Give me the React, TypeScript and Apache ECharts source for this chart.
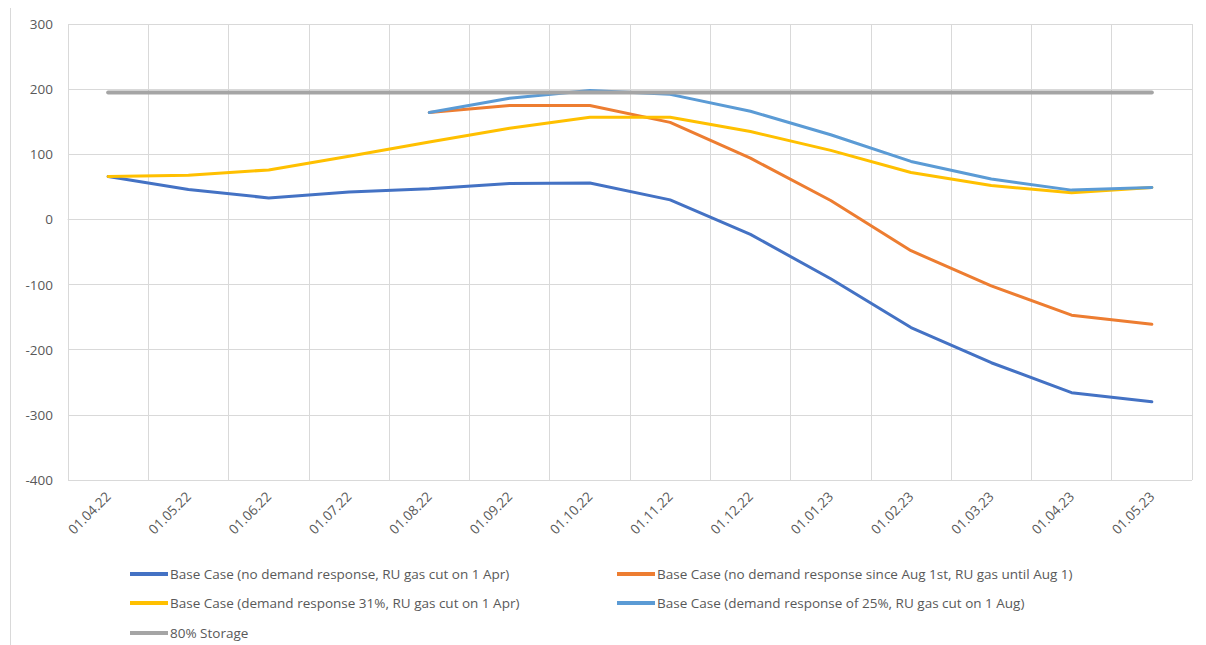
import React, { useEffect, useRef } from "react";
import * as echarts from "echarts";

const categories = [
  "01.04.22", "01.05.22", "01.06.22", "01.07.22", "01.08.22", "01.09.22", "01.10.22",
  "01.11.22", "01.12.22", "01.01.23", "01.02.23", "01.03.23", "01.04.23", "01.05.23",
];

const noDemandCutApr = [66, 46, 33, 42, 47, 55, 56, 30, -23, -91, -166, -220, -266, -280];
const noDemandSinceAug = [null, null, null, null, 164, 175, 175, 149, 94, 29, -48, -102, -147, -161];
const demand31CutApr = [66, 68, 76, 97, 119, 140, 157, 157, 135, 106, 72, 52, 41, 49];
const demand25CutAug = [null, null, null, null, 164, 186, 198, 192, 166, 130, 89, 62, 45, 49];
const storage80 = [195, 195, 195, 195, 195, 195, 195, 195, 195, 195, 195, 195, 195, 195];

const seriesNames = [
  "Base Case (no demand response, RU gas cut on 1 Apr)",
  "Base Case (no demand response since Aug 1st, RU gas until Aug 1)",
  "Base Case (demand response 31%, RU gas cut on 1 Apr)",
  "Base Case (demand response of 25%, RU gas cut on 1 Aug)",
  "80% Storage",
];
const seriesData = [noDemandCutApr, noDemandSinceAug, demand31CutApr, demand25CutAug, storage80];
const colors = ["#4472C4", "#ED7D31", "#FFC000", "#5B9BD5", "#A5A5A5"];
const widths = [3, 3, 3, 3, 4];

const FONT = "'Open Sans', sans-serif";

export default function App() {
  const ref = useRef<HTMLDivElement>(null);
  useEffect(() => {
    if (!ref.current) return;
    const chart = echarts.init(ref.current, undefined, { renderer: "svg" });
    const legendPos = [
      [130, 567],
      [617, 567],
      [130, 596],
      [617, 596],
      [130, 626],
    ];
    chart.setOption({
      animation: false,
      grid: { left: 68, right: 14, top: 24, bottom: 165 },
      legend: seriesNames.map((n, i) => ({
        data: [n],
        left: legendPos[i][0],
        top: legendPos[i][1],
        icon: "rect",
        itemWidth: 38,
        itemHeight: 4,
        padding: 0,
        textStyle: { fontFamily: FONT, fontSize: 13.5, color: "#595959", padding: [0, 0, 0, -3] },
      })),
      xAxis: {
        type: "category",
        data: categories,
        boundaryGap: true,
        axisLine: { show: true, lineStyle: { color: "#D9D9D9", width: 1 } },
        axisTick: { show: false },
        splitLine: { show: true, interval: 0, lineStyle: { color: "#D9D9D9", width: 1 } },
        axisLabel: {
          interval: 0,
          rotate: 45,
          color: "#595959",
          fontFamily: FONT,
          fontSize: 13.5,
          margin: 14,
        },
      },
      yAxis: {
        type: "value",
        min: -400,
        max: 300,
        interval: 100,
        axisLine: { show: false },
        axisTick: { show: false },
        splitLine: { show: true, lineStyle: { color: "#D9D9D9", width: 1 } },
        axisLabel: { color: "#595959", fontFamily: FONT, fontSize: 13.5, margin: 15 },
      },
      graphic: [
        {
          type: "line",
          shape: { x1: 10.5, y1: 8, x2: 10.5, y2: 645 },
          style: { stroke: "#D9D9D9", lineWidth: 1 },
        },
      ],
      series: seriesNames.map((n, i) => ({
        name: n,
        type: "line",
        data: seriesData[i],
        showSymbol: false,
        symbol: "none",
        connectNulls: false,
        lineStyle: { color: colors[i], width: widths[i], cap: "round", join: "round" },
        itemStyle: { color: colors[i] },
        z: 2 + i,
      })),
    });
    return () => chart.dispose();
  }, []);
  return (
    <div
      ref={ref}
      style={{ position: "absolute", left: 0, top: 0, width: 1206, height: 645, background: "#fff" }}
    />
  );
}
